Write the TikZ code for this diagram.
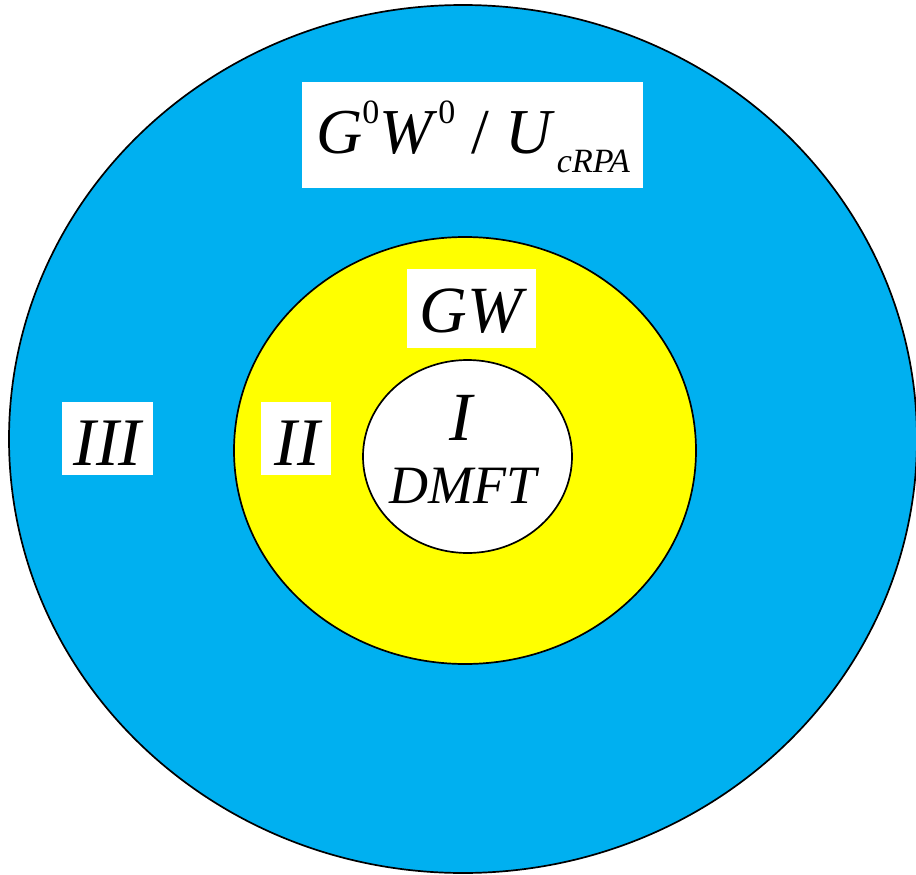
\documentclass[tikz,border=0pt]{standalone}
\usepackage{fontspec}
\setmainfont{Liberation Serif}
\usetikzlibrary{shapes.geometric}
\definecolor{skyb}{HTML}{00B0F0}
\definecolor{yel}{HTML}{FFFF00}
\newcommand{\fsz}[1]{\fontsize{#1pt}{#1pt}\selectfont}
\begin{document}
\begin{tikzpicture}[x=1pt,y=-1pt,
  ring/.style={ellipse,draw=black,line width=1.7pt,inner sep=0pt},
  lbox/.style={rectangle,fill=white,draw=none,inner sep=0pt},
  lab/.style={anchor=base,inner sep=0pt}]
\useasboundingbox (0,0) rectangle (916,875);
\begin{scope}
\clip (0,0) rectangle (916,875);
\node (outer) [ring,fill=skyb,minimum width=908pt,minimum height=868pt] at (463,439) {};
\end{scope}
\node (mid) [ring,fill=yel,minimum width=462pt,minimum height=427pt] at (465,450.5) {};
\node (inner) [ring,fill=white,minimum width=209pt,minimum height=193pt] at (467.5,456.5) {};
% label boxes
\node (boxA) [lbox,minimum width=341pt,minimum height=106pt] at (472.5,135) {};
\node (boxB) [lbox,minimum width=129pt,minimum height=79pt] at (471.5,308.5) {};
\node (boxC) [lbox,minimum width=91pt,minimum height=73pt] at (107.5,438.5) {};
\node (boxD) [lbox,minimum width=70pt,minimum height=73pt] at (296,438.5) {};
% labels
\node (tA) [lab] at (473,153) {\fsz{64}\itshape G\raisebox{30pt}{\fsz{34}\upshape 0}W\raisebox{30pt}{\fsz{34}\upshape\,0} \upshape/ \itshape U\raisebox{-19pt}{\fsz{34}\itshape\,cRPA}};
\node (tB) [lab] at (471,332) {\fsz{66}\itshape GW};
\node (tC) [lab] at (107.5,465) {\fsz{68}\itshape III};
\node (tD) [lab] at (297,465) {\fsz{68}\itshape II};
\node (tE) [lab] at (461,440) {\fsz{69}\itshape I};
\node (tF) [lab] at (463,503) {\fsz{54}\itshape DMFT};
\end{tikzpicture}
\end{document}
